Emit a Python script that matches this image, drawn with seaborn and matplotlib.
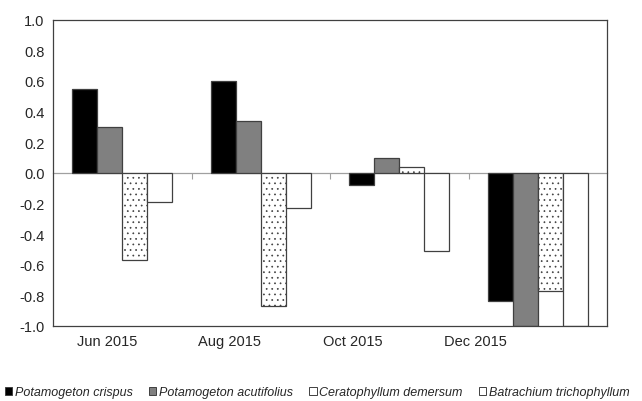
import pandas as pd
import matplotlib
matplotlib.use('Agg')
import matplotlib.pyplot as plt
import seaborn as sns

# data
months = ['Jun 2015', 'Aug 2015', 'Oct 2015', 'Dec 2015']
species = ['Potamogeton crispus', 'Potamogeton acutifolius',
           'Ceratophyllum demersum', 'Batrachium trichophyllum']
crispus = [0.55, 0.60, -0.08, -0.84]
acutifolius = [0.30, 0.34, 0.10, -1.00]
ceratophyllum = [-0.57, -0.87, 0.04, -0.77]
batrachium = [-0.19, -0.23, -0.51, -1.00]
y_ticks = [-1.0, -0.8, -0.6, -0.4, -0.2, 0.0, 0.2, 0.4, 0.6, 0.8, 1.0]

df = pd.DataFrame({
    'month': months * 4,
    'species': [s for s in species for _ in months],
    'value': crispus + acutifolius + ceratophyllum + batrachium,
})

sns.set_style('white')
plt.rcParams['font.family'] = ['Liberation Sans', 'DejaVu Sans']
plt.rcParams['axes.unicode_minus'] = False
plt.rcParams['hatch.color'] = '#909090'
plt.rcParams['hatch.linewidth'] = 0.5

fills = ['#000000', '#808080', '#ffffff', '#ffffff']
edge = '#404040'

fig = plt.figure(figsize=(6.42, 4.02), dpi=100)
ax = fig.add_axes([0.0826, 0.1866, 0.8629, 0.7619])

sns.barplot(data=df, x='month', y='value', hue='species', order=months,
            hue_order=species, palette=fills, width=0.72, saturation=1,
            edgecolor=edge, linewidth=0.9, ax=ax, legend=True)

# dotted pattern for Ceratophyllum
for bar in ax.containers[2]:
    bar.set_hatch('...')

ax.set_ylim(-1.0, 1.0)
ax.set_xlim(-0.5, 3.5)
ax.set_yticks(y_ticks)
ax.set_yticklabels([f'{v:.1f}' for v in y_ticks], fontsize=10.5)
ax.tick_params(axis='y', direction='out', length=4, width=0.8, color=edge, pad=2)
ax.set_xlabel('')
ax.set_ylabel('')

# category labels sit a bit left of the groups, as in the original
ax.set_xticks([i * 0.887 - 0.11 for i in range(len(months))])
ax.set_xticklabels(months, fontsize=10.5)
ax.tick_params(axis='x', length=0, pad=6)

for s in ax.spines.values():
    s.set_color(edge)
    s.set_linewidth(0.9)

# zero line with tick marks between categories
zero = ax.secondary_xaxis(0.5)
zero.set_alignment('bottom')
zero.set_xticks([0.5, 1.5, 2.5])
zero.set_xticklabels(['', '', ''])
zero.tick_params(axis='x', direction='out', length=4, color='#a0a0a0', width=0.8)
zero.spines['bottom'].set_color('#a0a0a0')
zero.spines['bottom'].set_linewidth(0.9)

handles, labels = ax.get_legend_handles_labels()
ax.get_legend().remove()
leg = fig.legend(handles, labels, loc='center', bbox_to_anchor=(0.494, 0.022),
                 ncol=4, frameon=False, handlelength=0.6, handleheight=0.6,
                 handletextpad=0.2, columnspacing=1.3,
                 prop={'style': 'italic', 'size': 9})
for h in leg.legend_handles:
    h.set_linewidth(0.7)
    h.set_hatch(None)

fig.savefig('out.png', dpi=100)
